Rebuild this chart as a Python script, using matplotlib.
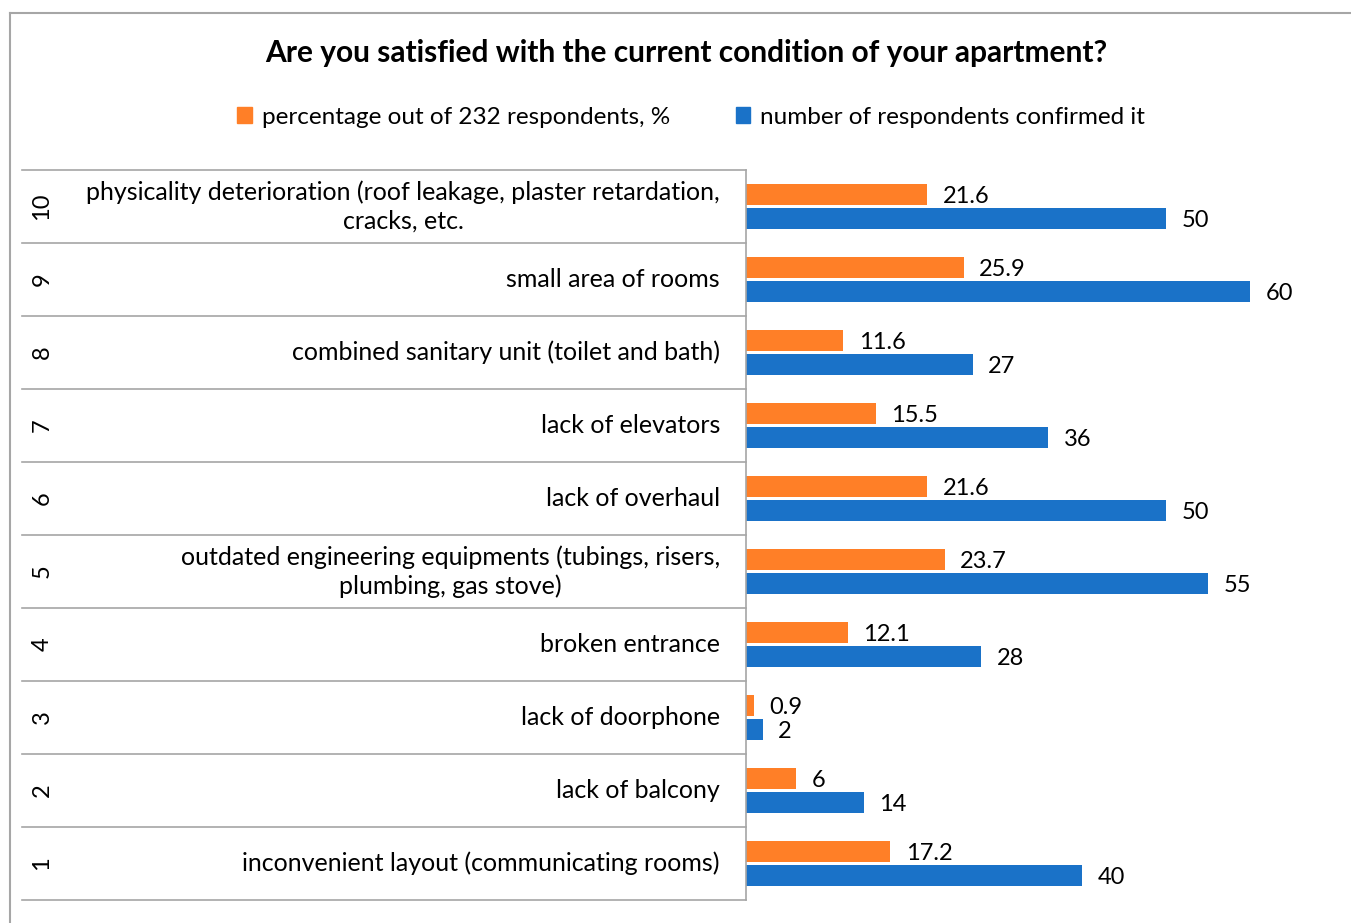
import matplotlib.pyplot as plt
from matplotlib.transforms import blended_transform_factory
from matplotlib.lines import Line2D

plt.rcParams['font.family'] = ['Lato', 'DejaVu Sans']

numbers = ["1", "2", "3", "4", "5", "6", "7", "8", "9", "10"]
labels = [
    "inconvenient layout (communicating rooms)",
    "lack of balcony",
    "lack of doorphone",
    "broken entrance",
    "outdated engineering equipments (tubings, risers,\nplumbing, gas stove)",
    "lack of overhaul",
    "lack of elevators",
    "combined sanitary unit (toilet and bath)",
    "small area of rooms",
    "physicality deterioration (roof leakage, plaster retardation,\ncracks, etc.",
]
percent = [17.2, 6, 0.9, 12.1, 23.7, 21.6, 15.5, 11.6, 25.9, 21.6]
counts = [40, 14, 2, 28, 55, 50, 36, 27, 60, 50]
percent_txt = ["17.2", "6", "0.9", "12.1", "23.7", "21.6", "15.5", "11.6", "25.9", "21.6"]

orange = "#FF7F27"
blue = "#1A72C8"
grey = "#A6A6A6"

W, H = 1351, 923
fig = plt.figure(figsize=(W / 100, H / 100), dpi=100)
ax = fig.add_axes([746 / W, 23 / H, (1345 - 746) / W, (900 - 170) / H])

y = list(range(len(numbers)))
ax.barh([v + 0.165 for v in y], percent, height=0.28, color=orange)
ax.barh([v - 0.165 for v in y], counts, height=0.28, color=blue)

for i in y:
    ax.annotate(percent_txt[i], (percent[i], i + 0.165), xytext=(11, -1.5),
                textcoords="offset points", va="center", ha="left", fontsize=17)
    ax.annotate(str(counts[i]), (counts[i], i - 0.165), xytext=(11, -1.5),
                textcoords="offset points", va="center", ha="left", fontsize=17)

ax.set_xlim(0, (1345 - 746) / 8.4)
ax.set_ylim(-0.5, len(numbers) - 0.5)
ax.set_xticks([])
ax.set_yticks([])
for s in ["top", "right", "bottom"]:
    ax.spines[s].set_visible(False)
ax.spines["left"].set_color(grey)
ax.spines["left"].set_linewidth(1.2)

# category table on the left
tr = blended_transform_factory(fig.transFigure, ax.transData)
for k in range(len(numbers) + 1):
    fig.add_artist(Line2D([22 / W, 746 / W], [k - 0.5, k - 0.5], transform=tr,
                          color=grey, lw=1.2))
for i in y:
    fig.text(42 / W, i, numbers[i], transform=tr, rotation=90,
             ha="center", va="center", fontsize=17)
    fig.text(720 / W, i, labels[i], transform=tr, ha="right", va="center",
             fontsize=18, linespacing=1.3, multialignment="center")

# outer frame (top and left)
fig.add_artist(Line2D([10 / W, 1], [1 - 13 / H, 1 - 13 / H], color=grey, lw=1.5))
fig.add_artist(Line2D([10 / W, 10 / W], [0, 1 - 13 / H], color=grey, lw=1.5))

fig.text(686 / W, 1 - 53 / H, "Are you satisfied with the current condition of your apartment?",
         ha="center", va="center", fontsize=21.5, fontweight="bold")

leg_h = [plt.Rectangle((0, 0), 1, 1, color=orange), plt.Rectangle((0, 0), 1, 1, color=blue)]
fig.legend(leg_h, ["percentage out of 232 respondents, %", "number of respondents confirmed it"],
           loc="center", bbox_to_anchor=(691 / W, 1 - 117 / H), ncol=2, frameon=False,
           fontsize=17.5, handlelength=0.6, handleheight=0.6, handletextpad=0.4,
           columnspacing=2.7)

fig.savefig("out.png", dpi=100, facecolor="white")
